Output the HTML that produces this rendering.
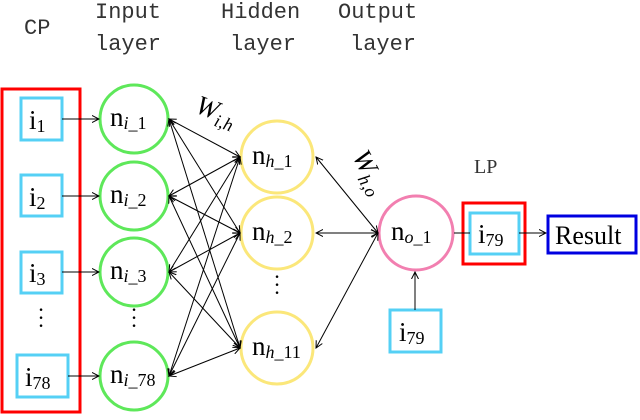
<!DOCTYPE html>
<html><head><style>
body{margin:0;background:#fff;width:640px;height:415px;overflow:hidden}
</style></head><body>
<svg width="640" height="415" xmlns="http://www.w3.org/2000/svg">
<defs><marker id="a" markerWidth="8" markerHeight="8" refX="7" refY="4" orient="auto-start-reverse" markerUnits="userSpaceOnUse"><path d="M0,0.5 L7,4 L0,7.5" fill="none" stroke="#000" stroke-width="1"/></marker></defs>
<g font-family="Liberation Mono, monospace" font-size="22" fill="#333">
<text x="24" y="34">CP</text>
<text x="95" y="18">Input</text><text x="95" y="50">layer</text>
<text x="221" y="18">Hidden</text><text x="230" y="50">layer</text>
<text x="338" y="18">Output</text><text x="350" y="50">layer</text>
</g>
<text x="474" y="173" font-family="Liberation Serif, serif" font-size="20" fill="#333">LP</text>
<rect x="2" y="89" width="78" height="323" fill="none" stroke="#f00" stroke-width="3"/>
<g fill="none" stroke="#55d0f5" stroke-width="3">
<rect x="21" y="98" width="41" height="42"/><rect x="21" y="175" width="41" height="41"/><rect x="21" y="252" width="41" height="41"/><rect x="17" y="355" width="51" height="42"/>
<rect x="470" y="213" width="49" height="41"/><rect x="390" y="310" width="51" height="42"/>
</g>
<rect x="463" y="203" width="62" height="61" fill="none" stroke="#f00" stroke-width="3"/>
<rect x="548" y="216" width="88" height="37" fill="none" stroke="#0000e0" stroke-width="3"/>
<g fill="none" stroke="#5ee85a" stroke-width="3">
<circle cx="134" cy="119" r="34"/><circle cx="134" cy="196" r="34"/><circle cx="134" cy="272" r="34"/><circle cx="134" cy="376" r="34"/>
</g>
<g fill="none" stroke="#fbe77a" stroke-width="3">
<circle cx="277" cy="157" r="36"/><circle cx="277" cy="233" r="36"/><circle cx="277" cy="348" r="36"/>
</g>
<circle cx="416" cy="233" r="37" fill="none" stroke="#f27fb0" stroke-width="3"/>
<g stroke="#000" stroke-width="1" marker-end="url(#a)" fill="none">
<line x1="62" y1="119" x2="99" y2="119"/><line x1="62" y1="196" x2="99" y2="196"/><line x1="62" y1="272" x2="99" y2="272"/><line x1="68" y1="376" x2="99" y2="376"/>
<g marker-start="url(#a)">
<line x1="169" y1="119" x2="240" y2="157"/><line x1="169" y1="119" x2="240" y2="233"/><line x1="169" y1="119" x2="240" y2="348"/>
<line x1="169" y1="196" x2="240" y2="157"/><line x1="169" y1="196" x2="240" y2="233"/><line x1="169" y1="196" x2="240" y2="348"/>
<line x1="169" y1="272" x2="240" y2="157"/><line x1="169" y1="272" x2="240" y2="233"/><line x1="169" y1="272" x2="240" y2="348"/>
<line x1="169" y1="376" x2="240" y2="157"/><line x1="169" y1="376" x2="240" y2="233"/><line x1="169" y1="376" x2="240" y2="348"/>
<line x1="316" y1="157" x2="378" y2="233"/><line x1="316" y1="233" x2="378" y2="233"/><line x1="316" y1="348" x2="378" y2="233"/>
</g>
<line x1="415" y1="310" x2="415" y2="272"/>
<line x1="519" y1="233" x2="546" y2="233"/>
</g>
<line x1="454" y1="233" x2="470" y2="233" stroke="#000" stroke-width="1"/>
<g font-family="Liberation Serif, serif" font-size="27" fill="#000">
<text x="29" y="129">i<tspan font-size="18" dy="3">1</tspan></text>
<text x="29" y="206">i<tspan font-size="18" dy="3">2</tspan></text>
<text x="29" y="282">i<tspan font-size="18" dy="3">3</tspan></text>
<text x="25" y="386">i<tspan font-size="18" dy="3">78</tspan></text>
<text x="478" y="243">i<tspan font-size="18" dy="3">79</tspan></text>
<text x="399" y="341">i<tspan font-size="18" dy="3">79</tspan></text>
<text x="555" y="244" font-size="26">Result</text>
<text x="110" y="126">n<tspan font-size="18" font-style="italic" dy="3">i</tspan><tspan font-size="18">_1</tspan></text>
<text x="110" y="203">n<tspan font-size="18" font-style="italic" dy="3">i</tspan><tspan font-size="18">_2</tspan></text>
<text x="110" y="279">n<tspan font-size="18" font-style="italic" dy="3">i</tspan><tspan font-size="18">_3</tspan></text>
<text x="110" y="383">n<tspan font-size="18" font-style="italic" dy="3">i</tspan><tspan font-size="18">_78</tspan></text>
<text x="252" y="164">n<tspan font-size="18" font-style="italic" dy="3">h</tspan><tspan font-size="18">_1</tspan></text>
<text x="252" y="240">n<tspan font-size="18" font-style="italic" dy="3">h</tspan><tspan font-size="18">_2</tspan></text>
<text x="252" y="355">n<tspan font-size="18" font-style="italic" dy="3">h</tspan><tspan font-size="18">_11</tspan></text>
<text x="391" y="240">n<tspan font-size="18" font-style="italic" dy="3">o</tspan><tspan font-size="18">_1</tspan></text>
<text transform="translate(194,112) rotate(20)" font-style="italic" font-size="27">W<tspan font-size="18" dy="6">i,h</tspan></text>
<text transform="translate(352,156) rotate(62)" font-style="italic" font-size="27">W<tspan font-size="18" dy="6">h,o</tspan></text>
</g>
<g font-family="Liberation Serif, serif" font-size="22" fill="#000" text-anchor="middle">
<text x="41" y="317">·</text><text x="41" y="325">·</text><text x="41" y="333">·</text>
<text x="134" y="317">·</text><text x="134" y="325">·</text><text x="134" y="333">·</text>
<text x="277" y="284">·</text><text x="277" y="292">·</text><text x="277" y="300">·</text>
</g>
</svg>
</body></html>
